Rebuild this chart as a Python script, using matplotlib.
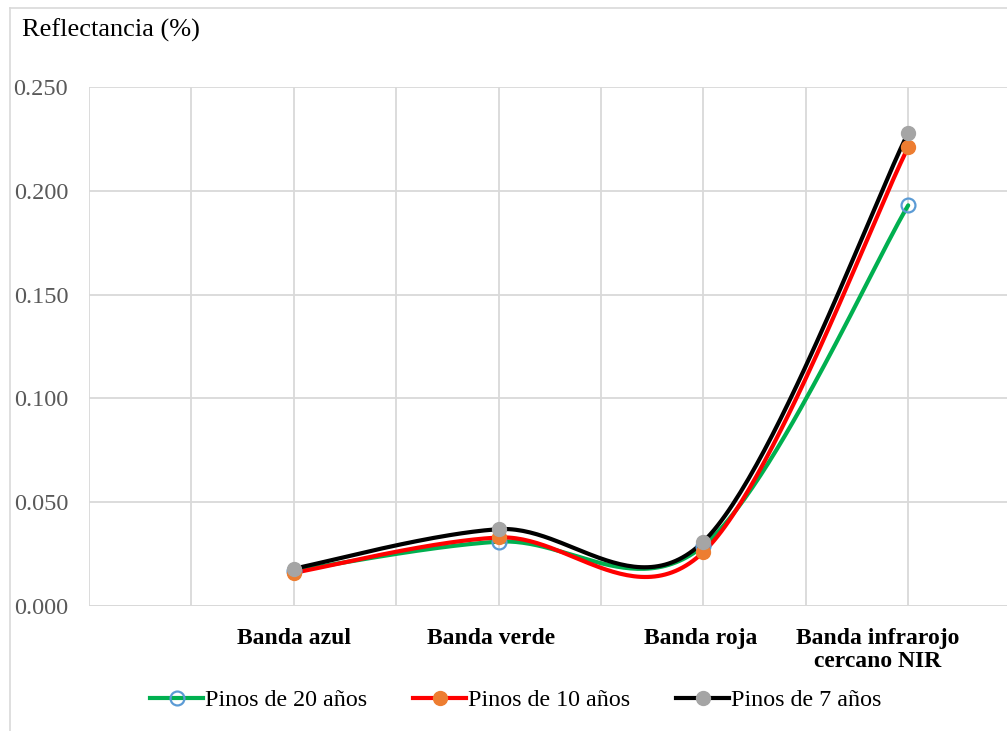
import numpy as np
import matplotlib
matplotlib.use("Agg")
import matplotlib.pyplot as plt
from matplotlib.lines import Line2D

categories = ["Banda azul", "Banda verde", "Banda roja", "Banda infrarojo\ncercano NIR"]
x_pos = [2, 4, 6, 8]
label_pos = [2.0, 3.93, 5.97, 7.7]
pinos_20 = [0.017, 0.031, 0.029, 0.193]
pinos_10 = [0.016, 0.033, 0.026, 0.221]
pinos_7 = [0.018, 0.037, 0.031, 0.228]
series_names = ["Pinos de 20 años", "Pinos de 10 años", "Pinos de 7 años"]
y_ticks = [0.0, 0.05, 0.10, 0.15, 0.20, 0.25]

plt.rcParams['font.family'] = ['Liberation Serif', 'DejaVu Serif']


def smooth(xs, ys, n=60):
    """Bezier smoothing through each point (Catmull-Rom style, tension 1/6)."""
    xs = np.asarray(xs, float)
    ys = np.asarray(ys, float)
    px = np.concatenate([[xs[0]], xs, [xs[-1]]])
    py = np.concatenate([[ys[0]], ys, [ys[-1]]])
    out_x, out_y = [], []
    t = np.linspace(0, 1, n)
    for i in range(1, len(px) - 2):
        p0 = np.array([px[i], py[i]])
        p3 = np.array([px[i + 1], py[i + 1]])
        c1 = p0 + (np.array([px[i + 1], py[i + 1]]) - np.array([px[i - 1], py[i - 1]])) / 6
        c2 = p3 - (np.array([px[i + 2], py[i + 2]]) - np.array([px[i], py[i]])) / 6
        b = ((1 - t) ** 3)[:, None] * p0 + (3 * (1 - t) ** 2 * t)[:, None] * c1 \
            + (3 * (1 - t) * t ** 2)[:, None] * c2 + (t ** 3)[:, None] * p3
        out_x.extend(b[:, 0])
        out_y.extend(b[:, 1])
    return np.array(out_x), np.array(out_y)


fig = plt.figure(figsize=(10.07, 7.31), dpi=100)
W, H = 1007, 731
left_px, right_px = 89, 89 + 9 * 102.4
top_px, bot_px = 87, 606
ax = fig.add_axes([left_px / W, 1 - bot_px / H, (right_px - left_px) / W, (bot_px - top_px) / H])

grid_c = "#d9d9d9"
ax.set_xlim(0, 9)
ax.set_ylim(0, 0.25)
ax.set_xticks(np.arange(0, 10))
ax.set_yticks(y_ticks)
ax.set_yticklabels([f"{v:.3f}" for v in y_ticks], color="#595959", fontsize=17.5)
ax.set_xticklabels([])
ax.tick_params(length=0, pad=15)
ax.grid(True, color=grid_c, linewidth=1.3)
for s in ax.spines.values():
    s.set_visible(False)
ax.axhline(0, color=grid_c, linewidth=1.3)

styles = [
    (pinos_20, "#00b050", dict(marker="o", markersize=10, markerfacecolor="none",
                               markeredgecolor="#5b9bd5", markeredgewidth=1.6)),
    (pinos_10, "#ff0000", dict(marker="o", markersize=10, markerfacecolor="#ed7d31",
                               markeredgecolor="#ed7d31")),
    (pinos_7, "#000000", dict(marker="o", markersize=10, markerfacecolor="#a5a5a5",
                              markeredgecolor="#a5a5a5")),
]
handles = []
for (vals, col, mk), name in zip(styles, series_names):
    sx, sy = smooth(x_pos, vals)
    ax.plot(sx, sy, color=col, linewidth=3.0, solid_capstyle="round", zorder=3)
    ax.plot(x_pos, vals, linestyle="none", zorder=4, **mk)
    handles.append(Line2D([0], [0], color=col, linewidth=3.0, label=name, **mk))

for lp, cat in zip(label_pos, categories):
    ax.text(lp, -0.0105, cat, ha="center", va="top", fontsize=17,
            fontweight="bold", linespacing=1.12)

fig.text(22 / W, 1 - 30 / H, "Reflectancia (%)", ha="left", va="center", fontsize=19)

fig.legend(handles=handles, loc="center", bbox_to_anchor=(516 / W, 1 - 700 / H),
           ncol=3, frameon=False, fontsize=17.3, handlelength=2.2, handletextpad=0.1,
           columnspacing=1.9)

# chart border (top and left visible)
fig.add_artist(Line2D([10 / W, 10 / W], [0, 1 - 8 / H], color="#d9d9d9", linewidth=1.2))
fig.add_artist(Line2D([10 / W, 1], [1 - 8 / H, 1 - 8 / H], color="#d9d9d9", linewidth=1.2))

fig.savefig("out.png", dpi=100)
